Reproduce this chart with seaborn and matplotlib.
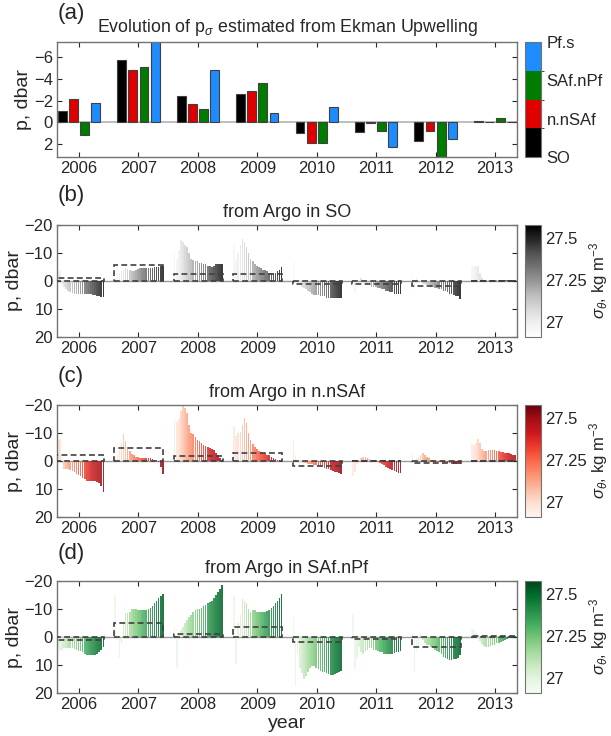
import numpy as np
import pandas as pd
import matplotlib
matplotlib.use("Agg")
import matplotlib.pyplot as plt
import seaborn as sns
from matplotlib.patches import Rectangle
from matplotlib.colors import ListedColormap, BoundaryNorm, Normalize
import matplotlib.cm as cm

# ---------------- data ----------------
years = [2006, 2007, 2008, 2009, 2010, 2011, 2012, 2013]
regions = ["SO", "n.nSAf", "SAf.nPf", "Pf.s"]
region_colors = ["#000000", "#e00000", "#007d00", "#1e8cff"]

# Ekman-upwelling estimate of p_sigma (dbar), panel (a)
ekman_SO = [-1.0, -5.7, -2.4, -2.6, 1.0, 0.9, 1.7, -0.15]
ekman_nnSAf = [-2.1, -4.8, -1.7, -2.9, 1.9, 0.05, 0.8, -0.05]
ekman_SAfnPf = [1.2, -5.1, -1.2, -3.6, 1.9, 0.8, 3.5, -0.4]
ekman_Pfs = [-1.8, -7.6, -4.8, -0.9, -1.4, 2.3, 1.5, 0.0]

# density of each bar within a season (kg m-3)
sigma_theta = [26.96, 26.98, 27.0, 27.03, 27.06, 27.09, 27.12, 27.15, 27.17, 27.2,
               27.22, 27.25, 27.27, 27.3, 27.32, 27.35, 27.37, 27.4, 27.42, 27.44,
               27.46, 27.48, 27.5, 27.52]

# Argo estimates, SO
argo_SO = {
    2006: [-2.5, -3, -3.5, 1, 2, 3, 3.5, 4, 4.2, 4.5, 4.5, 4.5, 4.5, 4.5, 4.6, 4.6, 4.7, 4.8, 5, 5, 5.2, 5.4, 5.6, 5.8],
    2007: [-1, -2, -3, -3.5, -4, -4.5, -4.2, -3.8, -3.5, -3.5, -4, -4.2, -4.5, -4.5, -4.6, -4.6, -4.7, -4.8, -4.8, -5, -5, -5, -5.2, -5.2],
    2008: [-10, -8, -11, -14.5, -14, -13, -12, -10, -8, -7.5, -7, -7, -6.5, -6.5, -6, -6, -5.5, -5.5, -5, -5.5, -6, -6, -6, -6],
    2009: [-13, -7, -10, -13, -15, -14, -12, -10, -8, -7, -6, -5.5, -5, -4.5, -4, -4, -3.5, -3, -3, -3, -3, -3.5, -4, -5],
    2010: [-7, 0.5, 1, 1.5, 2, 2.5, 3, 3.5, 4, 4.5, 5, 5, 5, 5.2, 5.5, 5.5, 6, 6, 6, 6, 6, 6.2, 6.2, 6],
    2011: [2, 4, 1, -0.5, -1, 0.5, 1, 1, 1.5, 2, 2, 2, 2.5, 2.5, 3, 3, 3.5, 3.5, 4, 4, 4.5, 4.5, 4.5, 4.5],
    2012: [-1.5, 3, -1, -0.5, 0.5, 1, 1, 1.5, 1.5, 2, 2, 2.5, 2.5, 3, 3, 3.5, 3.5, 4, 4.5, 4.5, 5, 5.5, 5.5, 6.5],
    2013: [-5.5, -5.5, -5.3, -5.5, -3, -1, -0.5, -0.5, -0.5, -0.5, -0.5, -0.5, -0.5, -0.5, -0.5, -0.5, -0.5, -0.5, -0.5, -0.5, -0.5, -0.5, -0.5, -0.5],
}
# Argo estimates, n.nSAf
argo_nnSAf = {
    2006: [-5, -7, -8, 0, 3, 3, 3, 3.2, 3.5, 4, 4.5, 5, 5.5, 6, 6.5, 7, 7, 7, 7, 7, 7.5, 8, 9, 11],
    2007: [-1, -2, -4, -6.5, -9.5, -7, -5, -3.5, -2.5, -2, -1.5, -1.5, -1.2, -1, -1, -1, -1, -1, -0.8, -0.5, -0.3, 0.5, 2, 4.5],
    2008: [-14.5, -14, -15, -18, -20, -19, -17, -13, -10, -9.5, -8.5, -7.5, -7, -6.3, -5.8, -5.3, -5, -4.6, -4.3, -4, -3, -2, -1, 0.5],
    2009: [-12.5, -9, -10, -10.5, -13, -15.5, -13.5, -10, -7.5, -6, -5, -4.2, -3.7, -3.3, -3, -2.7, -2.3, -2, -1.5, -1, -0.6, -0.3, -0.2, 0.5],
    2010: [-7.5, -2, 0.3, 0.5, 0.5, 0.7, 0.8, 1, 1, 1.2, 1.5, 1.5, 1.8, 2, 2.2, 2.5, 2.8, 3, 3.2, 3.5, 3.8, 4, 4.2, 4.5],
    2011: [5.5, 4, 1, -0.5, -1, -1.5, -1.3, -1, -0.8, -0.5, -0.2, 0.2, 0.5, 0.8, 1.2, 1.5, 2, 2.5, 3, 3.3, 3.7, 4, 4.3, 4.3],
    2012: [-2.5, 1, -1, -1.5, -2, -2.7, -2.2, -1.5, -1, -0.5, -0.3, 0, 0.2, 0.3, 0.4, 0.5, 0.5, 0.6, 0.7, 0.8, 0.9, 1, 1, 1],
    2013: [-6, -5.8, -6.5, -8, -6.5, -4.2, -3.5, -3.5, -3.8, -4, -4, -3.8, -3.5, -3.5, -3.3, -3.3, -3, -3, -2.8, -2.5, -2.3, -2, -1.7, -1.5],
}
# Argo estimates, SAf.nPf
argo_SAfnPf = {
    2006: [8.5, 4, 5, 4.5, 4, 4, 3.8, 4, 4, 4.2, 4.5, 5, 5, 5.5, 6, 6.3, 6.5, 6.5, 6.5, 6.3, 6, 5.5, 4.5, 3.5],
    2007: [-15.5, 1, 7.5, 2, -5, -8.5, -8.5, -9, -10, -10, -10, -9.7, -9.5, -9.5, -9.5, -9.5, -10, -10.5, -11, -12, -13, -14, -14.5, -15.5],
    2008: [-4, 11, -1.5, -2.5, -3.5, -5, -6, -7, -8, -9, -9.5, -10, -10, -10.5, -11, -11.5, -12, -12.5, -13, -14, -15, -16, -17, -18.5],
    2009: [-14.5, 9.5, -5, -8, -13.5, -13, -12, -10, -9, -9.5, -9.5, -9, -9, -9, -9, -9, -9.3, -9.7, -10.5, -11, -12, -13, -14, -15.5],
    2010: [-7, 17.5, 6, 11, 13, 15, 14, 12.5, 11, 10.5, 10.5, 11, 11.5, 12, 12.5, 12.5, 13, 13.3, 13.5, 13.5, 13.3, 13, 12.5, 12],
    2011: [-8.5, 11.5, 7.5, 3.5, 5.5, 6, 5, 4.5, 4, 4, 4.5, 4.5, 5, 5.5, 5.5, 6, 6, 6, 6, 6, 5.8, 5.5, 5.5, 5],
    2012: [-1, 12.5, 5, 3.5, -1, 1, 2, 3, 3, 3.5, 4, 4.5, 5, 5.5, 6, 7, 7.5, 8, 8.2, 8.2, 8, 7.8, 7.5, 6.5],
    2013: [-3, -2.5, -1.5, 0.5, 1.5, 2.5, 3.2, 3.5, 3.5, 3.3, 3, 2.7, 2.3, 2, 1.7, 1.4, 1.1, 0.8, 0.5, 0.3, 0, -0.3, -1, -2.5],
}

# ---------------- style ----------------
sns.set_style("ticks")
plt.rcParams["font.family"] = ["Liberation Sans", "DejaVu Sans"]
plt.rcParams["mathtext.fontset"] = "custom"
plt.rcParams["mathtext.rm"] = "Liberation Sans"
plt.rcParams["mathtext.it"] = "Liberation Sans:italic"

fig = plt.figure(figsize=(6.11, 7.36), dpi=100)

L, W = 57 / 611, 460 / 611
CX, CW = 525 / 611, 16 / 611
H = 736.0

def box(top, bottom):
    return [L, 1 - bottom / H, W, (bottom - top) / H]

def cbox(top, bottom):
    return [CX, 1 - bottom / H, CW, (bottom - top) / H]

XLIM = (2005.63, 2013.37)
FS = 12
LABFS = 14
TITFS = 13

def style_axes(ax):
    ax.set_xlim(*XLIM)
    ax.set_xticks(years)
    ax.set_xticklabels([str(y) for y in years])
    ax.tick_params(direction="in", top=True, right=True, length=3.5, width=0.8,
                   labelsize=FS, colors="0.15", pad=3)
    for s in ax.spines.values():
        s.set_color("0.45")
        s.set_linewidth(1.0)
        s.set_visible(True)
    ax.set_ylabel("p, dbar", fontsize=LABFS, labelpad=1)
    ax.set_xlabel("")

# ---------------- panel (a) ----------------
ax_a = fig.add_axes(box(42, 157))
rows = []
for r, vals in zip(regions, [ekman_SO, ekman_nnSAf, ekman_SAfnPf, ekman_Pfs]):
    for y, v in zip(years, vals):
        rows.append((y, r, v))
df_a = pd.DataFrame(rows, columns=["year", "region", "p"])
ax_a.axhline(0, color="0.7", lw=1.2, zorder=0)
sns.barplot(data=df_a, x="year", y="p", hue="region", hue_order=regions,
            palette=region_colors, native_scale=True, width=0.75, gap=0.2,
            errorbar=None, legend=False, saturation=1, edgecolor="0.25",
            linewidth=0.8, ax=ax_a)
style_axes(ax_a)
ax_a.set_ylim(3.2, -7.4)
ax_a.set_yticks([-6, -4, -2, 0, 2])
ax_a.set_title(r"Evolution of p$_{\sigma}$ estimated from Ekman Upwelling",
               fontsize=12.8, pad=7)

cax_a = fig.add_axes(cbox(42, 157))
cmap4 = ListedColormap(region_colors)
norm4 = BoundaryNorm(np.linspace(1, 4, 5), 4)
cb_a = fig.colorbar(cm.ScalarMappable(norm=norm4, cmap=cmap4), cax=cax_a,
                    ticks=[1, 2, 3, 4])
cb_a.ax.set_yticklabels(regions)
cb_a.ax.tick_params(length=0, labelsize=FS, pad=4)
cb_a.outline.set_edgecolor("0.45")

# ---------------- panels (b)-(d) ----------------
season_t = np.linspace(-0.39, 0.41, 24)
sig_norm = Normalize(26.91, 27.58)

def argo_panel(top, bottom, data, ekman, cmap, title):
    ax = fig.add_axes(box(top, bottom))
    rows = []
    for y in years:
        for k, v in enumerate(data[y]):
            rows.append((round(y + season_t[k], 4), v, sigma_theta[k]))
    df = pd.DataFrame(rows, columns=["t", "p", "sigma"])
    ax.axhline(0, color="0.6", lw=1.0, zorder=0)
    sns.barplot(data=df, x="t", y="p", hue="sigma", palette=cmap,
                hue_norm=(sig_norm.vmin, sig_norm.vmax), native_scale=True,
                dodge=False, width=0.78, errorbar=None, legend=False,
                saturation=1, linewidth=0, alpha=0.85, ax=ax)
    for y, e in zip(years, ekman):
        ax.add_patch(Rectangle((y - 0.405, 0), 0.825, e, fill=False,
                               ls=(0, (3.5, 2)), lw=1.2, ec="0.25", zorder=5))
    style_axes(ax)
    ax.set_ylim(20, -20)
    ax.set_yticks([-20, -10, 0, 10, 20])
    ax.set_title(title, fontsize=TITFS, pad=6)
    cax = fig.add_axes(cbox(top, bottom))
    cb = fig.colorbar(cm.ScalarMappable(norm=sig_norm, cmap=cmap), cax=cax,
                      ticks=[27, 27.25, 27.5])
    cb.ax.set_yticklabels(["27", "27.25", "27.5"])
    cb.ax.tick_params(length=0, labelsize=FS, pad=3)
    cb.outline.set_edgecolor("0.45")
    cb.set_label(r"$\sigma_\theta$, kg m$^{-3}$", fontsize=12)
    cb.ax.yaxis.set_label_coords(3.9, 0.5)
    return ax

ax_b = argo_panel(225, 337, argo_SO, ekman_SO, "Greys", "from Argo in SO")
ax_c = argo_panel(405, 517, argo_nnSAf, ekman_nnSAf, "Reds", "from Argo in n.nSAf")
ax_d = argo_panel(581, 693, argo_SAfnPf, ekman_SAfnPf, "Greens", "from Argo in SAf.nPf")
ax_d.set_xlabel("year", fontsize=LABFS, labelpad=2)

for lab, ypx in [("(a)", 13), ("(b)", 196), ("(c)", 376), ("(d)", 554)]:
    fig.text(58 / 611, 1 - ypx / H, lab, fontsize=16, ha="left", va="center")

fig.savefig("out.png", dpi=100)
